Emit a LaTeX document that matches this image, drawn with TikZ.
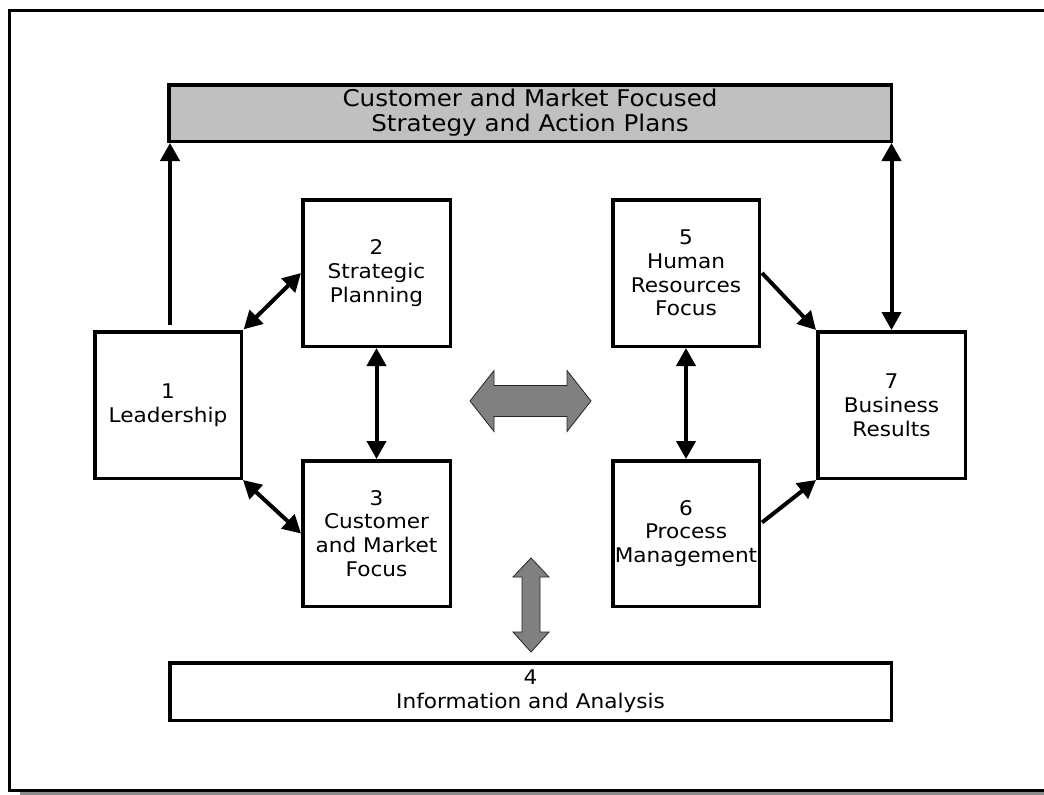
\documentclass[tikz,border=0pt]{standalone}
\usepackage{fontspec}
\newfontfamily\vfont[FakeStretch=1.07]{DejaVu Sans}
\usetikzlibrary{arrows.meta,calc}
\definecolor{boxgray}{RGB}{192,192,192}
\definecolor{arrgray}{RGB}{128,128,128}
\definecolor{shadowgray}{RGB}{140,140,140}
\begin{document}
\begin{tikzpicture}[x=1pt,y=1pt,
  box/.style={draw, line width=3.5pt, align=center, inner sep=0pt,
    font=\vfont\fontsize{20.2}{23.8}\selectfont},
  conn/.style={line width=4pt, -{Triangle[width=19pt,length=18pt]}},
  dconn/.style={line width=4pt, {Triangle[width=19pt,length=18pt]}-{Triangle[width=19pt,length=18pt]}},
  garrow/.style={fill=arrgray, draw=black!85, line width=0.8pt, line join=miter}
]
\useasboundingbox (0,0) rectangle (1044,-795);
% frame
\fill[shadowgray] (20,-792) rectangle (1044,-795);
\draw[line width=3pt] (1044,-10.5) -- (9.5,-10.5) -- (9.5,-790.5) -- (1044,-790.5);

% top banner
\node[box, fill=boxgray, minimum width=722.5pt, minimum height=56.5pt,
  font=\vfont\fontsize{23}{25}\selectfont] (top) at (530,-113)
  {Customer and Market Focused\\Strategy and Action Plans};

% boxes
\node[box, minimum width=146.5pt, minimum height=146.5pt] (b1) at (168,-405) {1\\Leadership};
\node[box, minimum width=147.5pt, minimum height=146.5pt] (b2) at (376.5,-273) {2\\Strategic\\Planning};
\node[box, minimum width=147.5pt, minimum height=145.5pt] (b3) at (376.5,-533.5) {3\\Customer\\and Market\\Focus};
\node[box, minimum width=146.5pt, minimum height=146.5pt] (b5) at (686,-273) {5\\Human\\Resources\\Focus};
\node[box, minimum width=146.5pt, minimum height=145.5pt] (b6) at (686,-533.5) {6\\Process\\Management};
\node[box, minimum width=147.5pt, minimum height=146.5pt] (b7) at (891.5,-405) {7\\Business\\Results};
\node[box, minimum width=721.5pt, minimum height=57.5pt] (b4) at (530.5,-691.5) {4\\Information and Analysis};

% connectors
\coordinate (l1) at (170,-325);
\draw[conn] (l1) -- (l1 |- top.south);
\draw[dconn] (b7.north) -- (b7.north |- top.south);
\draw[dconn, shorten <=1pt] (b1.north east) -- (b2.west);
\draw[dconn] (b1.south east) -- (b3.west);
\draw[dconn] (b2.south) -- (b3.north);
\draw[dconn] (b5.south) -- (b6.north);
\coordinate (s5) at ($(b5.east)+(1,0)$);
\draw[conn] (s5) -- (b7.north west);
\coordinate (s6) at ($(b6.east)+(1,11)$);
\draw[conn] (s6) -- (b7.south west);

% gray double arrows
\draw[garrow] (470,-401) -- (494,-370.5) -- (494,-385.5) -- (567,-385.5) -- (567,-370.5)
  -- (591,-401) -- (567,-431.5) -- (567,-416.5) -- (494,-416.5) -- (494,-431.5) -- cycle;
\draw[garrow] (531,-558) -- (549,-577) -- (540,-577) -- (540,-632) -- (549,-632)
  -- (531,-652) -- (513,-632) -- (522,-632) -- (522,-577) -- (513,-577) -- cycle;
\end{tikzpicture}
\end{document}
